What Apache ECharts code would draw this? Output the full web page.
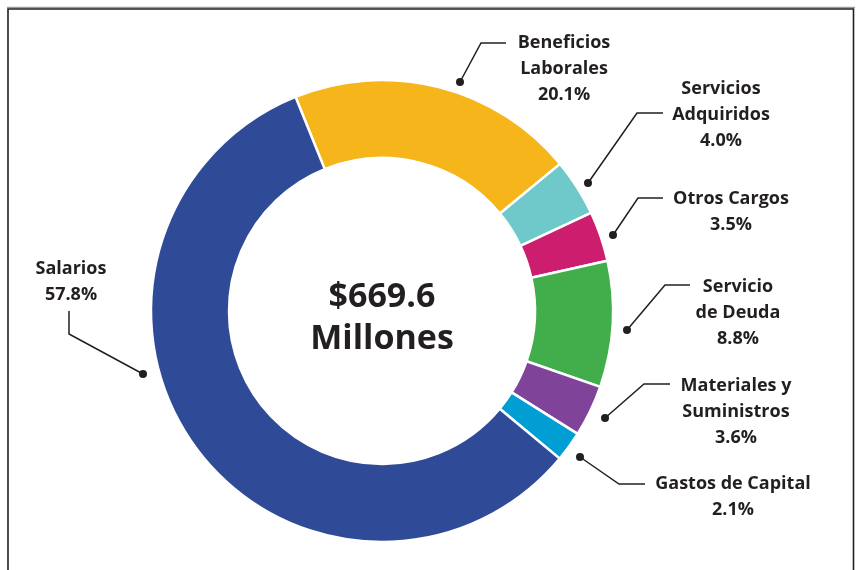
<!DOCTYPE html>
<html>
<head>
<meta charset="utf-8">
<script src="https://cdn.jsdelivr.net/npm/echarts@6/dist/echarts.min.js"></script>
<style>
html,body{margin:0;padding:0;background:#fff;}
#chart{width:856px;height:570px;}
</style>
</head>
<body>
<div id="chart"></div>
<script>
// ---- data ----
const categories = ['Beneficios\nLaborales', 'Servicios\nAdquiridos', 'Otros Cargos', 'Servicio\nde Deuda', 'Materiales y\nSuministros', 'Gastos de Capital', 'Salarios'];
const shares = [20.1, 4.0, 3.5, 8.8, 3.6, 2.1, 57.8];
const sliceColors = ['#F6B51A', '#6FC9CA', '#CD1D6E', '#41AE4B', '#7F4399', '#009ED3', '#2F4A96'];
const totalLabel = ['$669.6', 'Millones'];

// ---- layout of callouts (text anchor + leader line) ----
const callouts = [
  { tx: 564, ty: 30,  pts: [[460, 82], [481, 43], [506, 43]] },
  { tx: 721, ty: 76,  pts: [[588, 183], [637, 113], [663, 113]] },
  { tx: 731, ty: 186, pts: [[613, 235], [638, 198], [663, 198]] },
  { tx: 738, ty: 274, pts: [[627, 330], [665, 285], [690, 285]] },
  { tx: 736, ty: 373, pts: [[605, 418], [644, 384], [670, 384]] },
  { tx: 733, ty: 471, pts: [[580, 457], [619, 484], [645, 484]] },
  { tx: 71,  ty: 256, pts: [[143, 374], [69, 334], [69, 311]] }
];

const TXT = '#231F20';
const FONT = '"Open Sans", "Liberation Sans", sans-serif';
const CX = 382, CY = 311;

const graphics = [];
// frame
graphics.push({ type: 'line', shape: { x1: 7, y1: 7.5, x2: 855, y2: 7.5 }, style: { stroke: '#9a9a9a', lineWidth: 1.5 }, silent: true });
graphics.push({ type: 'rect', shape: { x: 8, y: 9, width: 845.5, height: 700 }, style: { fill: null, stroke: TXT, lineWidth: 1.6 }, silent: true });
// leader lines and dots
callouts.forEach(c => {
  graphics.push({ type: 'polyline', shape: { points: c.pts }, style: { stroke: TXT, lineWidth: 1.5, fill: null }, silent: true });
  graphics.push({ type: 'circle', shape: { cx: c.pts[0][0], cy: c.pts[0][1], r: 4 }, style: { fill: TXT }, silent: true });
});
// center text
graphics.push({
  type: 'text', x: CX, y: CY + 7,
  style: { text: totalLabel.join('\n'), fill: TXT, font: 'bold 34px ' + FONT, align: 'center', verticalAlign: 'middle', lineHeight: 42 },
  silent: true
});

const chart = echarts.init(document.getElementById('chart'), null, { renderer: 'canvas' });
chart.setOption({
  animation: false,
  backgroundColor: '#fff',
  graphic: graphics,
  series: [{
    type: 'pie',
    center: [CX, CY],
    radius: [153, 231],
    startAngle: 112,
    clockwise: true,
    avoidLabelOverlap: false,
    silent: true,
    itemStyle: { borderColor: '#fff', borderWidth: 2.5 },
    data: categories.map((n, i) => ({ name: n, value: shares[i], itemStyle: { color: sliceColors[i] } })),
    label: {
      show: true,
      position: 'outside',
      color: TXT,
      fontFamily: FONT,
      fontWeight: 'bold',
      fontSize: 18,
      lineHeight: 26,
      align: 'center',
      formatter: p => p.name + '\n' + p.value.toFixed(1) + '%'
    },
    labelLine: { show: false },
    labelLayout: function (params) {
      const c = callouts[params.dataIndex];
      return { x: c.tx, y: c.ty, align: 'center', verticalAlign: 'top', moveOverlap: null };
    }
  }]
});
</script>
</body>
</html>
